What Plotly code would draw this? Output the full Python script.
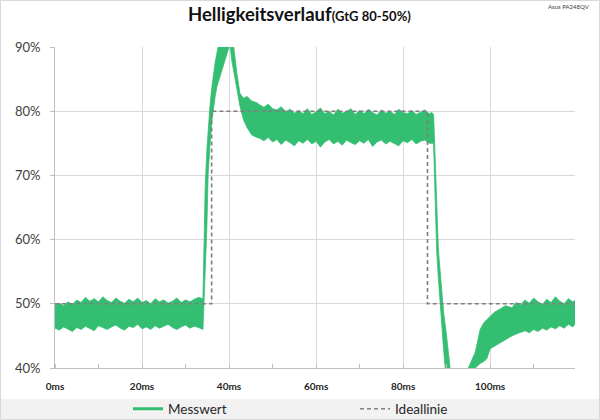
import plotly.graph_objects as go

# ---------------- data ----------------
# Measured band (Messwert): envelope of the noisy signal, time in ms, values in %
t_a = [0, 1, 2, 3, 4, 5, 6, 7, 8, 9, 10, 11, 12, 13, 14, 15, 16, 17, 18, 19,
       20, 21, 22, 23, 24, 25, 26, 27, 28, 29, 30, 31, 32, 33]
up_a = [49.8, 50.1, 49.7, 50.3, 49.9, 50.6, 50.2, 51.0, 50.4, 50.8, 50.3, 51.1,
        50.5, 50.2, 50.9, 50.4, 50.1, 50.7, 50.3, 50.9, 50.2, 50.5, 50.0, 50.8,
        50.3, 50.6, 50.1, 50.4, 50.9, 50.2, 50.6, 50.3, 50.7, 51.0]
lo_a = [46.2, 45.9, 46.4, 46.1, 45.7, 46.3, 46.0, 46.5, 46.2, 45.8, 46.6, 46.3,
        46.0, 46.4, 46.7, 46.2, 45.9, 46.5, 46.3, 46.8, 46.1, 46.4, 46.0, 46.6,
        46.2, 46.5, 46.8, 46.3, 46.0, 46.4, 46.7, 46.2, 46.5, 46.3]

t_b = [34.0, 34.1, 34.5, 34.9, 35.2, 35.6, 36.0, 36.4, 36.8, 37.2, 37.5, 37.9,
       38.5, 39.1, 39.8, 40.2, 40.6, 41.0, 41.8, 42.5, 43.3, 44.1, 45.2, 46.4]
up_b = [50.8, 55.0, 67.8, 74.0, 77.5, 80.7, 83.5, 85.9, 87.6, 89.0, 90.5, 91.5,
        92.0, 92.0, 92.0, 92.0, 91.5, 90.5, 85.9, 82.8, 82.0, 82.3, 81.6, 81.3]
lo_b = [46.0, 46.0, 54.0, 62.0, 70.4, 74.5, 78.2, 80.3, 82.3, 83.8, 84.5, 85.4,
        86.7, 88.0, 89.5, 90.5, 88.0, 86.0, 83.3, 80.8, 78.7, 77.5, 76.3, 75.9]

t_c = [47, 48, 49, 50, 51, 52, 53, 54, 55, 56, 57, 58, 59, 60, 61, 62, 63, 64,
       65, 66, 67, 68, 69, 70, 71, 72, 73, 74, 75, 76, 77, 78, 79, 80, 81, 82,
       83, 84, 85, 86]
up_c = [81.0, 80.6, 81.1, 80.4, 80.2, 80.7, 79.9, 80.3, 79.7, 80.1, 79.6, 80.4,
        79.5, 79.9, 80.5, 79.6, 80.0, 79.4, 80.3, 79.7, 79.9, 80.4, 79.5, 80.1,
        79.6, 80.3, 79.8, 79.4, 80.2, 79.7, 80.0, 79.5, 80.3, 79.8, 79.6, 80.1,
        79.5, 79.9, 80.2, 79.6]
lo_c = [75.8, 75.4, 75.9, 75.2, 75.6, 74.8, 75.5, 75.1, 74.6, 75.4, 75.0, 75.6,
        74.9, 75.3, 74.4, 75.2, 75.6, 74.9, 75.3, 74.7, 75.5, 75.1, 74.8, 75.4,
        75.0, 75.6, 74.5, 75.2, 75.5, 74.9, 75.3, 75.0, 74.6, 75.4, 75.1, 75.6,
        74.9, 75.3, 75.5, 75.0]

t_d = [86.6, 87.0, 87.4, 87.7, 88.1, 88.5, 88.9, 89.3, 89.9, 90.8, 91.5, 92.5,
       93.5, 94.3, 95.0, 95.8, 96.6]
up_d = [79.8, 79.5, 72.5, 65.0, 58.5, 55.2, 52.0, 48.7, 45.5, 40.0, 38.3, 36.0,
        35.5, 37.5, 40.0, 41.2, 42.5]
lo_d = [75.0, 75.0, 66.2, 58.5, 54.0, 49.7, 46.3, 42.9, 38.3, 35.0, 33.5, 32.5,
        33.0, 35.0, 36.5, 38.2, 40.0]

t_e = [97.7, 98.5, 99.2, 100, 101, 102.3, 103.5, 105, 106, 107, 108, 109, 110,
       111, 112, 113, 114, 115, 116, 117, 118, 119, 119.5]
up_e = [46.0, 47.0, 47.5, 48.1, 48.7, 49.2, 49.7, 49.4, 50.2, 49.8, 50.6, 50.1,
        50.9, 50.3, 49.9, 50.7, 50.2, 51.1, 50.4, 50.0, 50.8, 50.3, 50.5]
lo_e = [40.7, 41.0, 41.4, 43.0, 43.4, 43.8, 44.4, 45.0, 45.3, 45.6, 45.8, 45.5,
        46.0, 45.7, 46.2, 45.9, 46.4, 46.1, 46.6, 46.2, 46.8, 46.4, 46.9]

time_ms = t_a + t_b + t_c + t_d + t_e
upper_pct = up_a + up_b + up_c + up_d + up_e
lower_pct = lo_a + lo_b + lo_c + lo_d + lo_e

# Ideal line (Ideallinie)
ideal_t = [0, 36.0, 36.0, 85.6, 85.6, 119.5]
ideal_y = [50, 50, 80, 80, 50, 50]

x_ticks = [0, 20, 40, 60, 80, 100]
x_tick_labels = ["0ms", "20ms", "40ms", "60ms", "80ms", "100ms"]
y_ticks = [40, 50, 60, 70, 80, 90]
y_tick_labels = ["40%", "50%", "60%", "70%", "80%", "90%"]

# ---------------- styling ----------------
W, H = 600, 420
ML, MR, MT, MB = 55, 25, 47, 52
PW, PH = W - ML - MR, H - MT - MB
GREEN = "#33BE72"
GRAY_DASH = "#7F7F7F"
FONT = "Lato"


def px_x(px):
    return (px - ML) / PW


def px_y(py):
    return (H - MB - py) / PH


fig = go.Figure()

# green band (closed polygon: upper envelope forward, lower envelope back)
fig.add_trace(go.Scatter(
    x=time_ms + time_ms[::-1],
    y=upper_pct + lower_pct[::-1],
    mode="lines", fill="toself", fillcolor=GREEN,
    line=dict(color=GREEN, width=0.8),
    showlegend=False, hoverinfo="skip"))

fig.add_trace(go.Scatter(
    x=ideal_t, y=ideal_y, mode="lines", name="Ideallinie",
    line=dict(color=GRAY_DASH, width=1.6, dash="4px,3px"),
    legend="legend2"))

# legend-only entry for the measured band
fig.add_trace(go.Scatter(
    x=[None], y=[None], mode="lines", name="Messwert",
    line=dict(color=GREEN, width=3), legend="legend"))

shapes = [
    # grey legend band at the bottom
    dict(type="rect", xref="paper", yref="paper",
         x0=px_x(0), x1=px_x(W), y0=px_y(H), y1=px_y(399),
         fillcolor="#F2F2F2", line=dict(width=0), layer="below"),
    # outer frame
    dict(type="rect", xref="paper", yref="paper",
         x0=px_x(0.5), x1=px_x(W - 0.5), y0=px_y(H - 0.5), y1=px_y(0.5),
         fillcolor="rgba(0,0,0,0)", line=dict(color="#D9D9D9", width=1)),
]

fig.update_layout(
    width=W, height=H,
    margin=dict(l=ML, r=MR, t=MT, b=MB, autoexpand=False),
    paper_bgcolor="white", plot_bgcolor="white",
    font=dict(family=FONT, color="#404040"),
    title=dict(
        text="<b>Helligkeitsverlauf</b><span style='font-size:13px'><b>(GtG 80-50%)</b></span>",
        font=dict(family=FONT, size=18.5, color="#111111"),
        x=188 / W, xanchor="left", xref="container",
        y=1 - 15 / H, yanchor="middle", yref="container"),
    xaxis=dict(
        range=[0, 119.5], tickmode="array", tickvals=x_ticks, ticktext=x_tick_labels,
        showgrid=True, gridcolor="#D9D9D9", gridwidth=1,
        showline=True, linecolor="#BFBFBF", linewidth=1,
        ticks="", zeroline=False,
        tickfont=dict(family=FONT, size=10, color="#262626", weight="bold"),
        ticklabelstandoff=9,
        minor=dict(dtick=10, tick0=0, ticks="inside", ticklen=4,
                   tickcolor="#BFBFBF", showgrid=False)),
    yaxis=dict(
        range=[40, 90], tickmode="array", tickvals=y_ticks, ticktext=y_tick_labels,
        showgrid=True, gridcolor="#D9D9D9", gridwidth=1,
        showline=True, linecolor="#BFBFBF", linewidth=1,
        ticks="outside", ticklen=4, tickcolor="#BFBFBF", zeroline=False,
        tickfont=dict(family=FONT, size=13, color="#404040"),
        ticklabelstandoff=7),
    legend=dict(orientation="h", x=px_x(128), xanchor="left",
                y=px_y(409), yanchor="middle", bgcolor="rgba(0,0,0,0)",
                font=dict(family=FONT, size=13.5, color="#262626"),
                itemwidth=30),
    legend2=dict(orientation="h", x=px_x(355), xanchor="left",
                 y=px_y(409), yanchor="middle", bgcolor="rgba(0,0,0,0)",
                 font=dict(family=FONT, size=13.5, color="#262626"),
                 itemwidth=30),
    shapes=shapes,
    annotations=[dict(
        text="Asus PA248QV", xref="paper", yref="paper",
        x=px_x(592), y=px_y(6), xanchor="right", yanchor="middle",
        showarrow=False, font=dict(family=FONT, size=6, color="#404040"))],
)

fig.write_html(
    "out.html",
    config={"displayModeBar": False},
    post_script="document.body.style.margin='0';document.body.style.padding='0';",
)
